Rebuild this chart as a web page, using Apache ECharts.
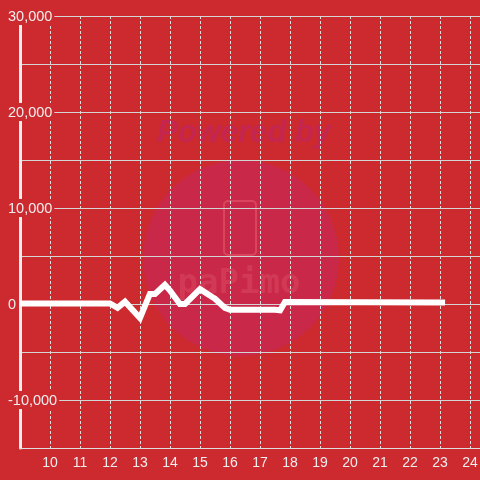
<!DOCTYPE html>
<html>
<head>
<meta charset="utf-8">
<script src="https://cdn.jsdelivr.net/npm/echarts@6/dist/echarts.min.js"></script>
<style>
html,body{margin:0;padding:0;background:#cd2a2f;}
#chart{width:480px;height:480px;}
</style>
</head>
<body>
<div id="chart"></div>
<script>
// Time of day (hours) of line vertices
var times = [9.0, 12.0, 12.25, 12.5, 13.0, 13.33, 13.5, 13.83, 14.0, 14.33, 14.5, 15.0, 15.42, 15.5, 15.83, 16.0, 17.5, 17.67, 17.83, 23.17];
// Values
var values = [50, 50, -400, 250, -1450, 1050, 1050, 2000, 1400, 0, 0, 1550, 700, 550, -400, -600, -600, -650, 200, 150];
var xTickLabels = ['10','11','12','13','14','15','16','17','18','19','20','21','22','23','24'];
var yTickLabels = ['-10,000','0','10,000','20,000','30,000'];
var yTickValues = [-10000, 0, 10000, 20000, 30000];

var BG = '#cd2a2f';
var data = times.map(function (t, i) { return [t, values[i]]; });

var chart = echarts.init(document.getElementById('chart'), null, {renderer: 'canvas'});
chart.setOption({
  backgroundColor: BG,
  animation: false,
  grid: {left: 20, right: 0, top: 16, bottom: 32, containLabel: false, outerBoundsMode: 'none'},
  graphic: [
    {type: 'circle', z: 1, shape: {cx: 241, cy: 258, r: 98}, style: {fill: '#c92848'}},
    {type: 'text', z: 1, style: {x: 244, y: 133, text: 'Powered by', align: 'center', verticalAlign: 'middle',
      font: 'italic bold 31px Arial, sans-serif', fill: '#c4264f'}},
    {type: 'rect', z: 1, shape: {x: 224, y: 201, width: 32, height: 54, r: 4},
      style: {fill: 'none', stroke: 'rgba(255,140,140,0.3)', lineWidth: 2}},
    {type: 'text', z: 1, style: {x: 239, y: 284, text: 'paPimo', align: 'center', verticalAlign: 'middle',
      font: 'bold 34px monospace', fill: 'rgba(255,150,150,0.16)'}}
  ],
  xAxis: {
    type: 'value', min: 9, max: 24.333, interval: 1, z: 3,
    axisLine: {show: true, onZero: false, lineStyle: {color: '#dddddd', width: 1}},
    axisTick: {show: false},
    axisLabel: {
      color: '#eeeeee', fontSize: 14, margin: 8, fontFamily: 'Liberation Sans',
      showMinLabel: true, showMaxLabel: true,
      formatter: function (v) {
        var s = String(Math.round(v));
        return (Math.abs(v - Math.round(v)) < 1e-6 && xTickLabels.indexOf(s) >= 0) ? s : '';
      }
    },
    splitLine: {show: true, lineStyle: {color: '#dddddd', width: 1, type: [3, 2]}}
  },
  yAxis: [
    {
      type: 'value', position: 'left', min: -15000, max: 30000, interval: 5000, z: 3,
      axisLine: {show: true, onZero: false, lineStyle: {color: '#eeeeee', width: 3}},
      axisTick: {show: false},
      axisLabel: {show: false},
      splitLine: {show: true, lineStyle: {color: '#d4d4d4', width: 1}}
    },
    {
      type: 'value', position: 'left', offset: 0, min: -15000, max: 30000, interval: 5000, z: 8,
      axisLine: {show: false, onZero: false}, axisTick: {show: false}, splitLine: {show: false},
      axisLabel: {
        align: 'left', margin: 13,
        formatter: function (v) {
          var i = yTickValues.indexOf(v);
          return i >= 0 ? '{b|' + yTickLabels[i] + '}' : '';
        },
        rich: {
          b: {color: '#eeeeee', fontSize: 14.5, fontFamily: 'Liberation Sans',
              backgroundColor: BG, padding: [2, 2, 1, 1]}
        }
      }
    }
  ],
  series: [{
    type: 'line', z: 10, yAxisIndex: 0, data: data, showSymbol: false, symbol: 'none',
    lineStyle: {color: '#ffffff', width: 6, cap: 'butt', join: 'miter'},
    clip: false
  }]
});
</script>
</body>
</html>
